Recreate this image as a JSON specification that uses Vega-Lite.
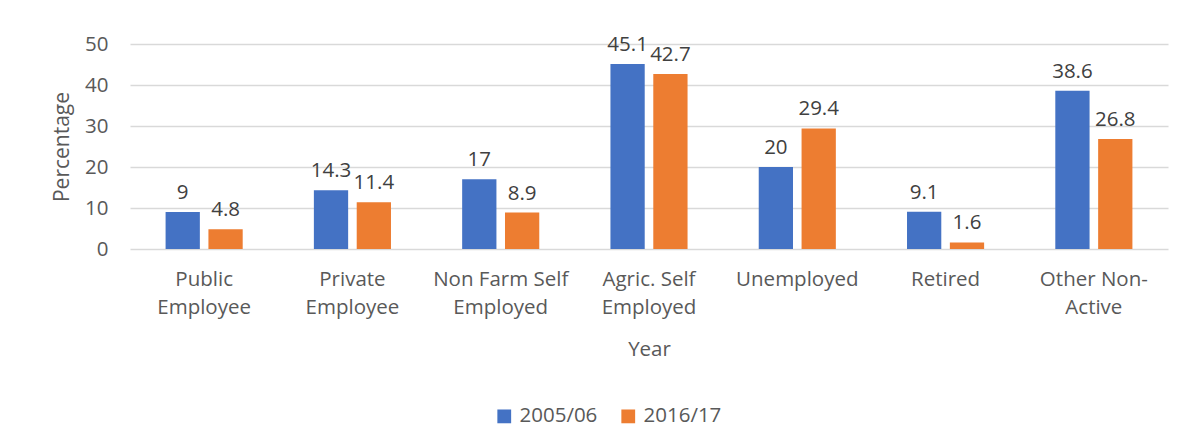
{
  "$schema": "https://vega.github.io/schema/vega-lite/v6.json",
  "autosize": {"type": "none"},
  "width": 1038,
  "height": 205,
  "padding": {"left": 130, "top": 44, "right": 13, "bottom": 196},
  "background": "white",
  "config": {
    "font": "Open Sans",
    "view": {"stroke": null},
    "axis": {"labelFont": "Open Sans", "titleFont": "Open Sans", "labelColor": "#595959", "titleColor": "#595959", "titleFontWeight": "normal"}
  },
  "data": {
    "values": [
      {"category": "Public Employee", "year": "2005/06", "value": 9},
      {"category": "Public Employee", "year": "2016/17", "value": 4.8},
      {"category": "Private Employee", "year": "2005/06", "value": 14.3},
      {"category": "Private Employee", "year": "2016/17", "value": 11.4},
      {"category": "Non Farm Self Employed", "year": "2005/06", "value": 17},
      {"category": "Non Farm Self Employed", "year": "2016/17", "value": 8.9},
      {"category": "Agric. Self Employed", "year": "2005/06", "value": 45.1},
      {"category": "Agric. Self Employed", "year": "2016/17", "value": 42.7},
      {"category": "Unemployed", "year": "2005/06", "value": 20},
      {"category": "Unemployed", "year": "2016/17", "value": 29.4},
      {"category": "Retired", "year": "2005/06", "value": 9.1},
      {"category": "Retired", "year": "2016/17", "value": 1.6},
      {"category": "Other Non-Active", "year": "2005/06", "value": 38.6},
      {"category": "Other Non-Active", "year": "2016/17", "value": 26.8}
    ]
  },
  "encoding": {
    "x": {
      "field": "category",
      "type": "nominal",
      "sort": null,
      "scale": {"paddingInner": 0.48, "paddingOuter": 0.24},
      "axis": {
        "title": "Year",
        "titleFontSize": 20.5,
        "titlePadding": 22,
        "labelAngle": 0,
        "labelFontSize": 20.5,
        "labelPadding": 20,
        "labelLineHeight": 28,
        "ticks": false,
        "domain": false,
        "labelExpr": "datum.label == 'Public Employee' ? ['Public', 'Employee'] : datum.label == 'Private Employee' ? ['Private', 'Employee'] : datum.label == 'Non Farm Self Employed' ? ['Non Farm Self', 'Employed'] : datum.label == 'Agric. Self Employed' ? ['Agric. Self', 'Employed'] : datum.label == 'Other Non-Active' ? ['Other Non-', 'Active'] : datum.label"
      }
    },
    "xOffset": {"field": "year", "type": "nominal", "scale": {"paddingInner": 0.2}},
    "y": {
      "field": "value",
      "type": "quantitative",
      "scale": {"domain": [0, 50]},
      "axis": {
        "title": "Percentage",
        "titleFontSize": 21,
        "titlePadding": 12,
        "values": [0, 10, 20, 30, 40, 50],
        "labelFontSize": 20.5,
        "labelPadding": 22,
        "ticks": false,
        "domain": false,
        "gridColor": "#d9d9d9",
        "gridWidth": 1.5
      }
    }
  },
  "layer": [
    {
      "mark": {"type": "bar"},
      "encoding": {
        "color": {
          "field": "year",
          "type": "nominal",
          "scale": {"domain": ["2005/06", "2016/17"], "range": ["#4472C4", "#ED7D31"]},
          "legend": {
            "title": null,
            "orient": "none",
            "direction": "horizontal",
            "legendX": 364,
            "legendY": 362,
            "symbolType": "square",
            "symbolSize": 190,
            "symbolStrokeWidth": 0,
            "labelFontSize": 20.5,
            "labelColor": "#595959",
            "labelFont": "Open Sans",
            "columnPadding": 20,
            "labelOffset": 5
          }
        }
      }
    },
    {
      "mark": {"type": "text", "baseline": "bottom", "dy": -9, "fontSize": 20.5, "color": "#404040"},
      "encoding": {"text": {"field": "value", "type": "quantitative"}}
    }
  ]
}
